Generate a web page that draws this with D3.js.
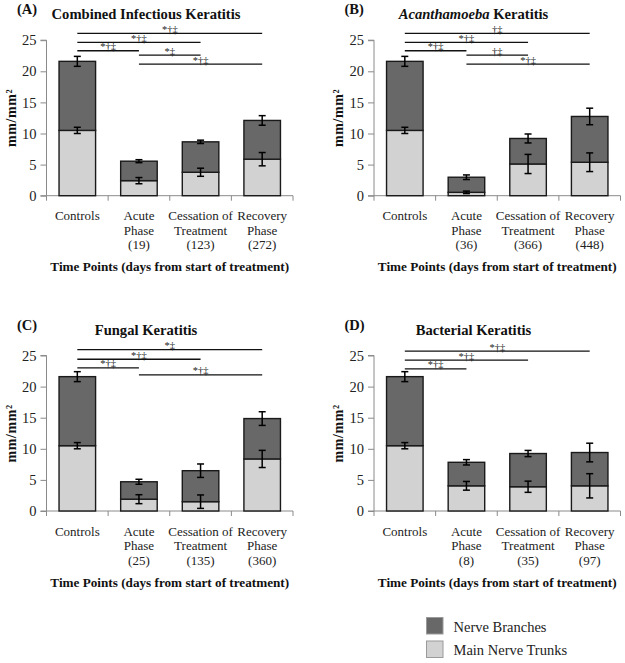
<!DOCTYPE html>
<html><head><meta charset="utf-8">
<script src="https://cdn.jsdelivr.net/npm/d3@7"></script>
<style>body{margin:0;background:#fff}svg{display:block}svg text{font-family:"Liberation Serif","Tinos","Times New Roman","DejaVu Serif",serif}</style>
</head><body>
<svg id="c" width="625" height="663"></svg>
<script>
const catLines = [["Controls"],["Acute","Phase"],["Cessation of","Treatment"],["Recovery","Phase"]];
const yTicks = [0,5,10,15,20,25];
const seriesNames = ["Nerve Branches","Main Nerve Trunks"];

const daysA = ["(19)","(123)","(272)"];
const trunksA = [10.5, 2.42, 3.77, 5.87];
const trunkErrA = [0.5, 0.5, 0.65, 1.07];
const branchesA = [11.1, 3.13, 4.89, 6.23];
const branchErrA = [0.8, 0.24, 0.27, 0.77];
const sigA = [[0,3,26.1,"*†‡"],[0,2,24.65,"*†‡"],[0,1,23.3,"*†‡"],[1,2,22.6,"*‡"],[1,3,21.15,"*†‡"]];

const daysB = ["(36)","(366)","(448)"];
const trunksB = [10.5, 0.54, 5.1, 5.38];
const trunkErrB = [0.5, 0.2, 1.54, 1.5];
const branchesB = [11.1, 2.43, 4.1, 7.36];
const branchErrB = [0.8, 0.37, 0.72, 1.33];
const sigB = [[0,3,26.1,"†‡"],[0,2,24.65,"*†‡"],[0,1,23.3,"*†‡"],[1,2,22.6,"†‡"],[1,3,21.15,"*†‡"]];

const daysC = ["(25)","(135)","(360)"];
const trunksC = [10.5, 1.9, 1.5, 8.37];
const trunkErrC = [0.5, 0.72, 1.08, 1.38];
const branchesC = [11.1, 2.8, 4.98, 6.49];
const branchErrC = [0.8, 0.4, 1.08, 1.1];
const sigC = [[0,3,25.95,"*‡"],[0,2,24.4,"*†‡"],[0,1,23.0,"*†‡"],[1,3,21.9,"*†‡"]];

const daysD = ["(8)","(35)","(97)"];
const trunksD = [10.5, 4.05, 3.9, 4.05];
const trunkErrD = [0.5, 0.7, 0.9, 1.95];
const branchesD = [11.1, 3.78, 5.34, 5.35];
const branchErrD = [0.8, 0.43, 0.5, 1.5];
const sigD = [[0,3,25.7,"*†‡"],[0,2,24.25,"*†‡"],[0,1,22.85,"*†‡"]];

const panels = [
  {letter:"(A)", title:[["Combined Infectious Keratitis","normal"]], days:daysA, trunks:trunksA, tErr:trunkErrA, branches:branchesA, bErr:branchErrA, sig:sigA, x0:46.5, y0:195.7},
  {letter:"(B)", title:[["Acanthamoeba","italic"],[" Keratitis","normal"]], days:daysB, trunks:trunksB, tErr:trunkErrB, branches:branchesB, bErr:branchErrB, sig:sigB, x0:374, y0:195.7},
  {letter:"(C)", title:[["Fungal Keratitis","normal"]], days:daysC, trunks:trunksC, tErr:trunkErrC, branches:branchesC, bErr:branchErrC, sig:sigC, x0:46.5, y0:511},
  {letter:"(D)", title:[["Bacterial Keratitis","normal"]], days:daysD, trunks:trunksD, tErr:trunkErrD, branches:branchesD, bErr:branchErrD, sig:sigD, x0:374, y0:511}
];

const DARK = "#686868", LIGHT = "#d2d2d2";
const svg = d3.select("#c");

panels.forEach(p => {
  const W = 246.5, H = 155.5;
  const g = svg.append("g");
  const x = d3.scaleBand().domain(d3.range(4)).range([p.x0, p.x0 + W]).paddingInner(0.407).paddingOuter(0.2035);
  const y = d3.scaleLinear().domain([0,25]).range([p.y0, p.y0 - H]);
  const cx = i => x(i) + x.bandwidth()/2;

  const ya = g.append("g").attr("transform", `translate(${p.x0},0)`)
    .call(d3.axisLeft(y).tickValues(yTicks).tickSize(6).tickPadding(4));
  ya.attr("font-family", null);
  ya.select(".domain").attr("stroke","#8a8a8a").attr("d", `M-6,${y(25)}H0V${y(0)}H-6`);
  ya.selectAll(".tick line").attr("stroke","#8a8a8a");
  ya.selectAll("text").attr("font-size", 14.5).attr("fill","#222");

  g.append("line").attr("x1", p.x0).attr("x2", p.x0 + W).attr("y1", p.y0).attr("y2", p.y0).attr("stroke","#8a8a8a");
  d3.range(5).forEach(k => {
    const xx = p.x0 + k * x.step();
    g.append("line").attr("x1", xx).attr("x2", xx).attr("y1", p.y0).attr("y2", p.y0 + 5).attr("stroke","#8a8a8a");
  });

  const rows = d3.range(4).map(i => ({i, trunks:p.trunks[i], branches:p.branches[i]}));
  const stack = d3.stack().keys(["trunks","branches"])(rows);
  const fills = {trunks: LIGHT, branches: DARK};
  stack.forEach(layer => {
    g.selectAll(null).data(layer).enter().append("rect")
      .attr("x", d => x(d.data.i)).attr("width", x.bandwidth())
      .attr("y", d => y(d[1])).attr("height", d => y(d[0]) - y(d[1]))
      .attr("fill", fills[layer.key]).attr("stroke","#1a1a1a").attr("stroke-width",1.4);
  });

  const errs = [];
  d3.range(4).forEach(i => {
    errs.push({i, v:p.trunks[i], e:p.tErr[i]});
    errs.push({i, v:p.trunks[i] + p.branches[i], e:p.bErr[i]});
  });
  const eg = g.append("g").attr("stroke","#000").attr("stroke-width",1.5);
  errs.forEach(d => {
    const c = cx(d.i);
    eg.append("line").attr("x1",c).attr("x2",c).attr("y1",y(d.v - d.e)).attr("y2",y(d.v + d.e));
    eg.append("line").attr("x1",c-3.5).attr("x2",c+3.5).attr("y1",y(d.v - d.e)).attr("y2",y(d.v - d.e));
    eg.append("line").attr("x1",c-3.5).attr("x2",c+3.5).attr("y1",y(d.v + d.e)).attr("y2",y(d.v + d.e));
  });

  p.sig.forEach(s => {
    const a = cx(s[0]), b = cx(s[1]), yy = y(s[2]);
    g.append("line").attr("x1",a).attr("x2",b).attr("y1",yy).attr("y2",yy).attr("stroke","#111").attr("stroke-width",1.3);
    g.append("text").attr("x",(a+b)/2).attr("y",yy - 0.5).attr("text-anchor","middle")
      .attr("font-size",10.5).attr("fill","#222").text(s[3]);
  });

  catLines.forEach((lines, i) => {
    const t = g.append("text").attr("text-anchor","middle").attr("font-size",13).attr("fill","#222");
    const all = i === 0 ? lines : lines.concat([p.days[i-1]]);
    all.forEach((ln, k) => {
      t.append("tspan").attr("x", cx(i)).attr("y", p.y0 + 24.5 + k*14.5).text(ln);
    });
  });

  g.append("text").attr("x", p.x0 + W/2).attr("y", p.y0 + 75.5).attr("text-anchor","middle")
    .attr("font-size",13.2).attr("font-weight","bold").attr("fill","#111")
    .text("Time Points (days from start of treatment)");

  g.append("text").attr("transform", `translate(${p.x0 - 31},${p.y0 - H/2}) rotate(-90)`)
    .attr("text-anchor","middle").attr("font-size",14).attr("font-weight","bold").attr("fill","#111")
    .attr("letter-spacing",0.6).text("mm/mm²");

  g.append("text").attr("x", p.x0 - 29.5).attr("y", p.y0 - 181.5).attr("font-size",14.5).attr("font-weight","bold").attr("fill","#111").text(p.letter);
  const tt = g.append("text").attr("x", p.x0 + 99.5).attr("y", p.y0 - 176.5).attr("text-anchor","middle")
    .attr("font-size",14.6).attr("font-weight","bold").attr("fill","#111");
  p.title.forEach(seg => tt.append("tspan").attr("font-style", seg[1]).text(seg[0]));
});

const lg = svg.append("g");
[DARK, LIGHT].forEach((col, k) => {
  lg.append("rect").attr("x",426.5).attr("y",617.5 + k*23.5).attr("width",16.5).attr("height",16.5)
    .attr("fill",col).attr("stroke","#9a9a9a").attr("stroke-width",1);
  lg.append("text").attr("x",453.5).attr("y",631.5 + k*23.5).attr("font-size",14.5).attr("fill","#222").text(seriesNames[k]);
});
</script>
</body></html>
